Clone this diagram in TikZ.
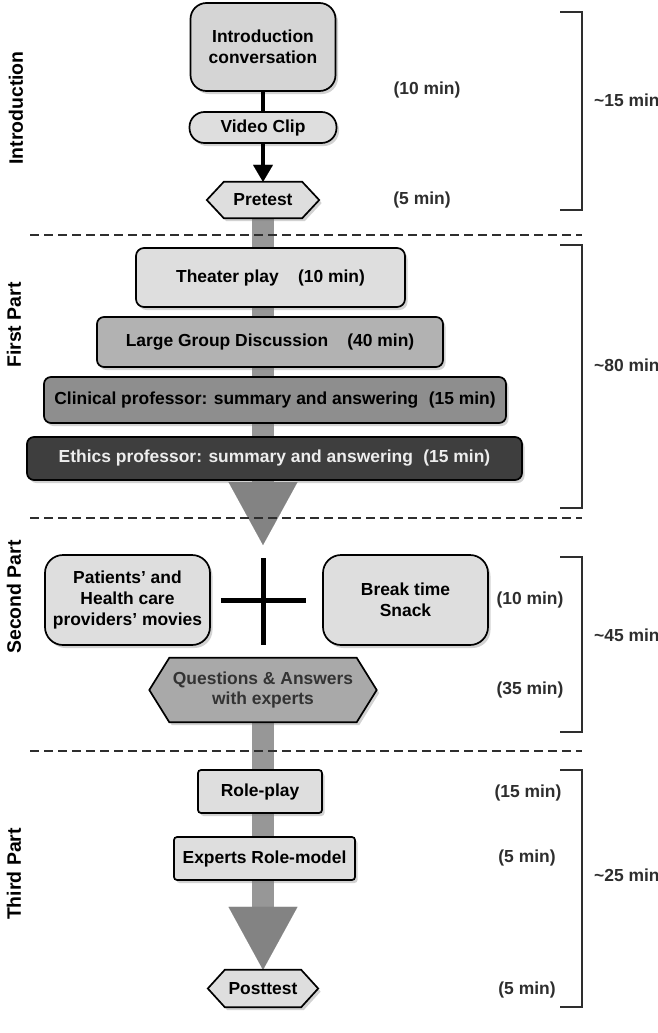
\documentclass[tikz,border=0pt]{standalone}
\usepackage{fontspec}
\setmainfont{Liberation Sans}
\usetikzlibrary{arrows.meta,shadows,backgrounds}
\pgfdeclarelayer{mid}
\pgfsetlayers{background,mid,main}
\definecolor{boxlight}{HTML}{DEDEDE}
\definecolor{boxintro}{HTML}{D5D5D5}
\definecolor{boxmid}{HTML}{B2B2B2}
\definecolor{boxdark}{HTML}{8E8E8E}
\definecolor{boxblack}{HTML}{3E3E3E}
\definecolor{boxqa}{HTML}{A9A9A9}
\definecolor{shaftgray}{HTML}{979797}
\definecolor{headgray}{HTML}{838383}
\definecolor{linegray}{HTML}{2E2E2E}
\tikzset{
  every node/.style={font=\fontsize{17.5}{21}\selectfont\bfseries},
  myshadow/.style={drop shadow={shadow xshift=2.5bp,shadow yshift=-3bp,opacity=.35}},
  card/.style={draw=black, line width=1.7bp, inner sep=2bp, align=center, myshadow},
  hexbase/.style={inner sep=0pt, align=center},
  hexpath/.style={draw=black, line width=1.7bp, myshadow},
  sidelabel/.style={rotate=90, inner sep=0pt, font=\fontsize{19.5}{22}\selectfont\bfseries},
  timelabel/.style={text=linegray, inner sep=0pt},
  totallabel/.style={text=linegray, inner sep=0pt, anchor=west},
  divider/.style={draw=linegray, line width=1.6bp, dash pattern=on 9bp off 5bp},
  bracketline/.style={draw=linegray, line width=2bp},
  thinlink/.style={draw=black, line width=4bp},
  crossbar/.style={draw=black, line width=5bp},
  bigarrow/.style={draw=shaftgray, line width=22bp,
    -{Triangle[length=63bp, width=69bp, line width=0.01bp, color=headgray, fill=headgray]}},
}
\begin{document}
\begin{tikzpicture}[x=1bp,y=-1bp]
\useasboundingbox (0,0) rectangle (658,1033);
\begin{pgfonlayer}{background}
\fill[white] (0,0) rectangle (658,1033);
\end{pgfonlayer}

% ---------- Introduction ----------
\node[card, fill=boxintro, rounded corners=16bp, minimum width=145bp, minimum height=88bp] (intro) at (263,47) {Introduction\\conversation};
\node[card, fill=boxlight, rounded corners=15bp, minimum width=147bp, minimum height=31bp] (video) at (263,127.5) {Video Clip};
\node[hexbase, minimum width=78bp, minimum height=36bp] (pre) at (263,200) {Pretest};

% ---------- First part ----------
\node[card, fill=boxlight, rounded corners=8bp, minimum width=269bp, minimum height=59bp] (theater) at (270.5,277.5) {Theater play\hspace{1.1em}(10 min)};
\node[card, fill=boxmid, rounded corners=7bp, minimum width=346bp, minimum height=50bp] (group) at (270,342) {Large Group Discussion\hspace{1.1em}(40 min)};
\node[card, fill=boxdark, rounded corners=7bp, minimum width=462bp, minimum height=46bp] (clin) at (275,400) {Clinical professor: summary and answering\hspace{0.6em}(15 min)};
\node[card, fill=boxblack, text=white!93!black, rounded corners=7bp, minimum width=495bp, minimum height=43bp] (eth) at (274.5,458.5) {Ethics professor: summary and answering\hspace{0.6em}(15 min)};
\coordinate (tip1) at (263,545);

% ---------- Second part ----------
\node[card, fill=boxlight, rounded corners=18bp, minimum width=165bp, minimum height=90bp] (pat) at (127.5,600) {Patients' and\\Health care\\providers' movies};
\node[card, fill=boxlight, rounded corners=18bp, minimum width=165bp, minimum height=90bp] (brk) at (405.5,600) {Break time\\Snack};
\coordinate (plus) at (263,601);
\node[hexbase, text=black!80, minimum width=187bp, minimum height=64bp] (qa) at (263,690) {Questions \& Answers\\with experts};

% ---------- Third part ----------
\node[card, fill=boxlight, rounded corners=3bp, minimum width=124bp, minimum height=43bp] (role) at (260,791.5) {Role-play};
\node[card, fill=boxlight, rounded corners=3bp, minimum width=181bp, minimum height=43bp] (expert) at (264.5,858.5) {Experts Role-model};
\node[hexbase, minimum width=76bp, minimum height=37bp] (post) at (263,988.5) {Posttest};

% hexagons
\begin{pgfonlayer}{mid}
\path[hexpath, fill=boxlight] (pre.north west) -- (pre.north east) -- ([xshift=17bp]pre.east) -- (pre.south east) -- (pre.south west) -- ([xshift=-17bp]pre.west) -- cycle;
\path[hexpath, fill=boxqa] (qa.north west) -- (qa.north east) -- ([xshift=20bp]qa.east) -- (qa.south east) -- (qa.south west) -- ([xshift=-20bp]qa.west) -- cycle;
\path[hexpath, fill=boxlight] (post.north west) -- (post.north east) -- ([xshift=17bp]post.east) -- (post.south east) -- (post.south west) -- ([xshift=-17bp]post.west) -- cycle;
\end{pgfonlayer}

% big grey arrows
\begin{pgfonlayer}{background}
\draw[bigarrow] (pre.south) -- (tip1);
\draw[bigarrow] (qa.south) -- (post.north);
\end{pgfonlayer}

% intro connectors
\draw[thinlink] (intro) -- (video);
\draw[thinlink, -{Triangle[length=17bp, width=20bp, line width=0.01bp]}] (video) -- (pre);

% plus sign
\draw[crossbar] ([xshift=10bp]pat.east) -- ([xshift=-16bp]brk.west);
\draw[crossbar] ([yshift=43bp]plus) -- ([yshift=-44bp]plus);

% dividers
\draw[divider] (30,235) -- (582,235);
\draw[divider] (30,518) -- (582,518);
\draw[divider] (30,751) -- (582,751);

% brackets
\draw[bracketline] (560,12) -- (582,12) -- (582,210) -- (560,210);
\draw[bracketline] (560,245) -- (582,245) -- (582,508) -- (560,508);
\draw[bracketline] (560,557) -- (582,557) -- (582,732) -- (560,732);
\draw[bracketline] (560,770) -- (582,770) -- (582,1007) -- (560,1007);

% time labels
\node[timelabel] (t1) at (427,90) {(10 min)};
\node[timelabel] (t2) at (422,200) {(5 min)};
\node[timelabel] (t3) at (530,600) {(10 min)};
\node[timelabel] (t4) at (530,690) {(35 min)};
\node[timelabel] (t5) at (528,793) {(15 min)};
\node[timelabel] (t6) at (527,858) {(5 min)};
\node[timelabel] (t7) at (527,990) {(5 min)};

\node[totallabel] (d1) at (594,100) {\textasciitilde15 min};
\node[totallabel] (d2) at (594,365) {\textasciitilde80 min};
\node[totallabel] (d3) at (594,635) {\textasciitilde45 min};
\node[totallabel] (d4) at (594,875) {\textasciitilde25 min};

% side labels
\node[sidelabel] (s1) at (16,108) {Introduction};
\node[sidelabel] (s2) at (14,325) {First Part};
\node[sidelabel] (s3) at (14,597) {Second Part};
\node[sidelabel] (s4) at (14,874) {Third Part};
\end{tikzpicture}
\end{document}
